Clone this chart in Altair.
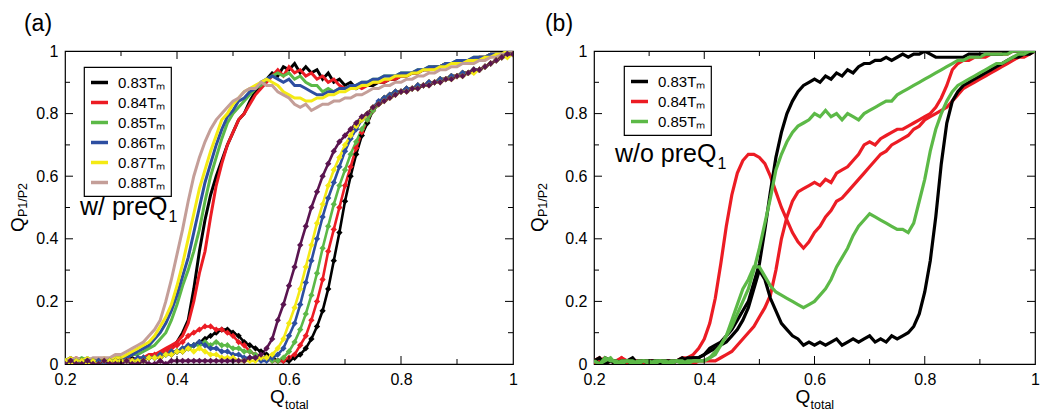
import altair as alt
import pandas as pd

FONT = "Liberation Sans"

# ---------------- data ----------------
X = [0.20, 0.21, 0.22, 0.23, 0.24, 0.25, 0.26, 0.27, 0.28, 0.29,
     0.30, 0.31, 0.32, 0.33, 0.34, 0.35, 0.36, 0.37, 0.38, 0.39,
     0.40, 0.41, 0.42, 0.43, 0.44, 0.45, 0.46, 0.47, 0.48, 0.49,
     0.50, 0.51, 0.52, 0.53, 0.54, 0.55, 0.56, 0.57, 0.58, 0.59,
     0.60, 0.61, 0.62, 0.63, 0.64, 0.65, 0.66, 0.67, 0.68, 0.69,
     0.70, 0.71, 0.72, 0.73, 0.74, 0.75, 0.76, 0.77, 0.78, 0.79,
     0.80, 0.81, 0.82, 0.83, 0.84, 0.85, 0.86, 0.87, 0.88, 0.89,
     0.90, 0.91, 0.92, 0.93, 0.94, 0.95, 0.96, 0.97, 0.98, 0.99,
     1.00]

# panel (a) upper branches (w/ preQ1)
A_U083 = [0.01, 0.02, 0.01, 0.00, 0.01, 0.01, 0.00, 0.01, 0.01, 0.01,
          0.01, 0.01, 0.02, 0.01, 0.02, 0.02, 0.03, 0.03, 0.04, 0.05,
          0.07, 0.10, 0.14, 0.24, 0.36, 0.46, 0.54, 0.60, 0.65, 0.70,
          0.74, 0.78, 0.80, 0.84, 0.87, 0.89, 0.91, 0.93, 0.92, 0.95,
          0.94, 0.96, 0.93, 0.95, 0.93, 0.94, 0.91, 0.93, 0.90, 0.91,
          0.89, 0.90, 0.88, 0.89, 0.89, 0.89, 0.90, 0.90, 0.91, 0.91,
          0.92, 0.92, 0.93, 0.93, 0.94, 0.94, 0.95, 0.95, 0.96, 0.96,
          0.96, 0.97, 0.97, 0.97, 0.98, 0.98, 0.99, 0.99, 0.99, 1.00,
          1.00]
A_U084 = [0.00, 0.01, 0.02, 0.01, 0.00, 0.01, 0.01, 0.00, 0.01, 0.01,
          0.01, 0.02, 0.01, 0.02, 0.02, 0.03, 0.03, 0.04, 0.05, 0.06,
          0.07, 0.09, 0.13, 0.20, 0.29, 0.36, 0.47, 0.57, 0.64, 0.70,
          0.74, 0.78, 0.80, 0.83, 0.86, 0.88, 0.90, 0.92, 0.94, 0.92,
          0.95, 0.93, 0.94, 0.92, 0.93, 0.91, 0.92, 0.90, 0.91, 0.89,
          0.88, 0.89, 0.89, 0.88, 0.89, 0.90, 0.90, 0.90, 0.91, 0.91,
          0.92, 0.92, 0.93, 0.93, 0.94, 0.94, 0.95, 0.95, 0.96, 0.96,
          0.96, 0.97, 0.97, 0.97, 0.98, 0.98, 0.99, 0.99, 0.99, 1.00,
          1.00]
A_U085 = [0.01, 0.00, 0.01, 0.02, 0.01, 0.01, 0.00, 0.01, 0.01, 0.02,
          0.02, 0.02, 0.03, 0.03, 0.04, 0.05, 0.06, 0.08, 0.10, 0.14,
          0.19, 0.25, 0.30, 0.36, 0.43, 0.52, 0.60, 0.66, 0.72, 0.77,
          0.80, 0.82, 0.84, 0.86, 0.88, 0.89, 0.91, 0.92, 0.93, 0.92,
          0.93, 0.91, 0.92, 0.90, 0.89, 0.89, 0.87, 0.88, 0.87, 0.88,
          0.88, 0.89, 0.89, 0.90, 0.90, 0.91, 0.91, 0.92, 0.92, 0.92,
          0.93, 0.93, 0.93, 0.94, 0.94, 0.95, 0.95, 0.95, 0.96, 0.96,
          0.97, 0.97, 0.97, 0.98, 0.98, 0.98, 0.99, 0.99, 0.99, 1.00,
          1.00]
A_U086 = [0.01, 0.01, 0.00, 0.01, 0.02, 0.01, 0.01, 0.00, 0.01, 0.02,
          0.02, 0.02, 0.03, 0.04, 0.05, 0.06, 0.08, 0.10, 0.13, 0.17,
          0.22, 0.28, 0.34, 0.42, 0.50, 0.58, 0.64, 0.70, 0.75, 0.79,
          0.81, 0.84, 0.85, 0.87, 0.88, 0.90, 0.91, 0.92, 0.91, 0.90,
          0.91, 0.89, 0.89, 0.88, 0.87, 0.86, 0.86, 0.87, 0.87, 0.88,
          0.88, 0.89, 0.89, 0.90, 0.90, 0.91, 0.91, 0.92, 0.92, 0.92,
          0.93, 0.93, 0.93, 0.94, 0.94, 0.95, 0.95, 0.95, 0.96, 0.96,
          0.97, 0.97, 0.97, 0.98, 0.98, 0.98, 0.99, 0.99, 0.99, 1.00,
          1.00]
A_U087 = [0.01, 0.02, 0.01, 0.01, 0.02, 0.01, 0.01, 0.02, 0.01, 0.02,
          0.02, 0.03, 0.04, 0.05, 0.06, 0.07, 0.09, 0.12, 0.15, 0.19,
          0.25, 0.32, 0.40, 0.48, 0.56, 0.62, 0.68, 0.73, 0.78, 0.80,
          0.83, 0.85, 0.87, 0.88, 0.89, 0.90, 0.91, 0.90, 0.89, 0.87,
          0.86, 0.85, 0.85, 0.84, 0.84, 0.85, 0.85, 0.86, 0.86, 0.87,
          0.87, 0.88, 0.88, 0.89, 0.89, 0.90, 0.90, 0.91, 0.91, 0.92,
          0.92, 0.92, 0.93, 0.93, 0.94, 0.94, 0.94, 0.95, 0.95, 0.96,
          0.96, 0.96, 0.97, 0.97, 0.97, 0.98, 0.98, 0.99, 0.99, 1.00,
          1.00]
A_U088 = [0.01, 0.01, 0.02, 0.01, 0.01, 0.02, 0.02, 0.02, 0.02, 0.03,
          0.03, 0.04, 0.05, 0.06, 0.07, 0.09, 0.11, 0.14, 0.20, 0.27,
          0.35, 0.43, 0.52, 0.60, 0.66, 0.71, 0.75, 0.78, 0.80, 0.82,
          0.84, 0.85, 0.87, 0.88, 0.88, 0.90, 0.89, 0.89, 0.87, 0.86,
          0.85, 0.83, 0.82, 0.83, 0.81, 0.82, 0.83, 0.83, 0.84, 0.84,
          0.85, 0.85, 0.86, 0.86, 0.87, 0.88, 0.88, 0.89, 0.89, 0.90,
          0.90, 0.91, 0.91, 0.92, 0.92, 0.93, 0.93, 0.94, 0.94, 0.95,
          0.95, 0.96, 0.96, 0.96, 0.97, 0.97, 0.98, 0.98, 0.99, 0.99,
          1.00]

# panel (a) lower branches
A_L083 = [0.01, 0.00, 0.00, 0.01, 0.00, 0.01, 0.00, 0.00, 0.01, 0.00,
          0.01, 0.01, 0.01, 0.01, 0.01, 0.02, 0.02, 0.02, 0.03, 0.03,
          0.04, 0.04, 0.05, 0.06, 0.07, 0.08, 0.09, 0.10, 0.11, 0.11,
          0.10, 0.09, 0.07, 0.06, 0.05, 0.04, 0.03, 0.02, 0.01, 0.01,
          0.01, 0.02, 0.03, 0.05, 0.08, 0.12, 0.17, 0.24, 0.33, 0.42,
          0.52, 0.60, 0.67, 0.73, 0.77, 0.81, 0.83, 0.85, 0.86, 0.87,
          0.87, 0.88, 0.88, 0.89, 0.89, 0.90, 0.90, 0.91, 0.91, 0.92,
          0.92, 0.93, 0.93, 0.94, 0.94, 0.95, 0.96, 0.97, 0.98, 0.99,
          0.99]
A_L084 = [0.00, 0.01, 0.00, 0.01, 0.01, 0.00, 0.01, 0.01, 0.00, 0.01,
          0.01, 0.01, 0.01, 0.01, 0.02, 0.02, 0.03, 0.03, 0.04, 0.05,
          0.06, 0.07, 0.09, 0.10, 0.11, 0.12, 0.12, 0.11, 0.11, 0.10,
          0.09, 0.07, 0.06, 0.04, 0.03, 0.02, 0.02, 0.01, 0.01, 0.01,
          0.02, 0.03, 0.06, 0.09, 0.14, 0.20, 0.27, 0.36, 0.43, 0.50,
          0.57, 0.63, 0.69, 0.74, 0.78, 0.81, 0.83, 0.85, 0.86, 0.87,
          0.87, 0.88, 0.88, 0.89, 0.89, 0.90, 0.90, 0.91, 0.91, 0.92,
          0.92, 0.93, 0.93, 0.94, 0.94, 0.95, 0.96, 0.97, 0.98, 0.99,
          0.99]
A_L085 = [0.01, 0.00, 0.01, 0.01, 0.01, 0.00, 0.01, 0.01, 0.01, 0.01,
          0.01, 0.01, 0.01, 0.01, 0.02, 0.02, 0.02, 0.03, 0.03, 0.04,
          0.04, 0.05, 0.05, 0.06, 0.06, 0.07, 0.06, 0.07, 0.06, 0.06,
          0.05, 0.05, 0.04, 0.04, 0.03, 0.02, 0.02, 0.01, 0.01, 0.02,
          0.04, 0.07, 0.11, 0.16, 0.22, 0.29, 0.37, 0.44, 0.51, 0.57,
          0.62, 0.67, 0.71, 0.75, 0.78, 0.81, 0.83, 0.85, 0.86, 0.87,
          0.87, 0.88, 0.88, 0.89, 0.89, 0.90, 0.90, 0.91, 0.91, 0.92,
          0.92, 0.93, 0.93, 0.94, 0.94, 0.95, 0.96, 0.97, 0.98, 0.99,
          0.99]
A_L086 = [0.00, 0.01, 0.01, 0.00, 0.01, 0.01, 0.01, 0.00, 0.01, 0.01,
          0.01, 0.01, 0.01, 0.02, 0.02, 0.02, 0.02, 0.03, 0.03, 0.04,
          0.04, 0.05, 0.06, 0.06, 0.07, 0.06, 0.05, 0.05, 0.04, 0.04,
          0.03, 0.03, 0.02, 0.02, 0.02, 0.01, 0.01, 0.02, 0.03, 0.05,
          0.09, 0.13, 0.19, 0.26, 0.33, 0.40, 0.47, 0.53, 0.58, 0.63,
          0.68, 0.72, 0.75, 0.78, 0.80, 0.82, 0.84, 0.85, 0.86, 0.87,
          0.87, 0.88, 0.88, 0.89, 0.89, 0.90, 0.90, 0.91, 0.91, 0.92,
          0.92, 0.93, 0.93, 0.94, 0.94, 0.95, 0.96, 0.97, 0.98, 0.99,
          0.99]
A_L087 = [0.01, 0.00, 0.01, 0.01, 0.00, 0.01, 0.00, 0.01, 0.01, 0.01,
          0.01, 0.01, 0.01, 0.01, 0.01, 0.02, 0.02, 0.02, 0.03, 0.03,
          0.04, 0.04, 0.05, 0.04, 0.05, 0.04, 0.03, 0.03, 0.02, 0.02,
          0.02, 0.01, 0.01, 0.01, 0.01, 0.02, 0.02, 0.03, 0.05, 0.08,
          0.13, 0.18, 0.24, 0.31, 0.38, 0.45, 0.51, 0.57, 0.62, 0.66,
          0.70, 0.73, 0.76, 0.78, 0.80, 0.82, 0.83, 0.84, 0.85, 0.86,
          0.87, 0.87, 0.88, 0.88, 0.89, 0.89, 0.90, 0.90, 0.91, 0.91,
          0.92, 0.92, 0.93, 0.93, 0.94, 0.95, 0.96, 0.97, 0.98, 0.98,
          0.99]
A_LPUR = [0.00, 0.01, 0.00, 0.00, 0.01, 0.00, 0.00, 0.01, 0.00, 0.00,
          0.00, 0.01, 0.00, 0.00, 0.01, 0.00, 0.00, 0.01, 0.00, 0.01,
          0.01, 0.01, 0.01, 0.01, 0.01, 0.01, 0.01, 0.01, 0.01, 0.01,
          0.01, 0.01, 0.01, 0.02, 0.02, 0.03, 0.05, 0.08, 0.14, 0.19,
          0.25, 0.31, 0.38, 0.44, 0.50, 0.55, 0.60, 0.64, 0.68, 0.71,
          0.73, 0.75, 0.77, 0.79, 0.80, 0.82, 0.83, 0.84, 0.85, 0.86,
          0.87, 0.87, 0.88, 0.88, 0.89, 0.89, 0.90, 0.90, 0.91, 0.91,
          0.92, 0.92, 0.93, 0.94, 0.94, 0.95, 0.96, 0.97, 0.98, 0.99,
          0.99]

# panel (b) curves (w/o preQ1)
B_K1 = [0.01, 0.02, 0.00, 0.01, 0.01, 0.00, 0.01, 0.02, 0.00, 0.01,
        0.01, 0.01, 0.00, 0.01, 0.01, 0.01, 0.02, 0.01, 0.02, 0.02,
        0.03, 0.05, 0.06, 0.07, 0.09, 0.11, 0.14, 0.17, 0.20, 0.26,
        0.32, 0.43, 0.55, 0.66, 0.74, 0.80, 0.84, 0.87, 0.89, 0.90,
        0.91, 0.90, 0.92, 0.91, 0.93, 0.92, 0.94, 0.93, 0.95, 0.96,
        0.96, 0.97, 0.97, 0.98, 0.97, 0.98, 0.99, 0.98, 0.99, 0.99,
        1.00, 0.99, 0.98, 0.98, 0.98, 0.98, 0.98, 0.98, 0.99, 0.99,
        0.99, 0.99, 0.99, 0.99, 0.99, 1.00, 1.00, 1.00, 1.00, 1.00,
        1.00]
B_K2 = [0.01, 0.00, 0.02, 0.01, 0.00, 0.01, 0.01, 0.00, 0.01, 0.01,
        0.00, 0.01, 0.01, 0.01, 0.00, 0.01, 0.01, 0.02, 0.02, 0.02,
        0.03, 0.04, 0.05, 0.06, 0.07, 0.09, 0.11, 0.14, 0.18, 0.24,
        0.30, 0.27, 0.21, 0.17, 0.13, 0.11, 0.09, 0.08, 0.06, 0.07,
        0.06, 0.07, 0.06, 0.07, 0.08, 0.06, 0.07, 0.08, 0.07, 0.08,
        0.09, 0.07, 0.08, 0.07, 0.09, 0.08, 0.09, 0.10, 0.12, 0.16,
        0.23, 0.33, 0.47, 0.64, 0.77, 0.84, 0.87, 0.89, 0.90, 0.91,
        0.92, 0.93, 0.94, 0.95, 0.96, 0.97, 0.98, 0.98, 0.99, 0.99,
        1.00]
B_R1 = [0.01, 0.02, 0.00, 0.01, 0.01, 0.02, 0.00, 0.01, 0.01, 0.00,
        0.01, 0.01, 0.00, 0.01, 0.01, 0.01, 0.02, 0.02, 0.03, 0.05,
        0.08, 0.13, 0.21, 0.32, 0.44, 0.54, 0.61, 0.65, 0.67, 0.67,
        0.66, 0.64, 0.60, 0.55, 0.50, 0.46, 0.42, 0.39, 0.37, 0.39,
        0.42, 0.44, 0.47, 0.49, 0.52, 0.53, 0.55, 0.57, 0.59, 0.61,
        0.63, 0.65, 0.67, 0.68, 0.70, 0.71, 0.72, 0.73, 0.75, 0.76,
        0.78, 0.79, 0.80, 0.81, 0.82, 0.84, 0.86, 0.88, 0.89, 0.90,
        0.91, 0.92, 0.93, 0.94, 0.95, 0.96, 0.97, 0.98, 0.98, 0.99,
        1.00]
B_R2 = [0.00, 0.01, 0.02, 0.01, 0.00, 0.02, 0.01, 0.00, 0.01, 0.01,
        0.01, 0.00, 0.01, 0.01, 0.00, 0.01, 0.01, 0.01, 0.00, 0.01,
        0.01, 0.01, 0.01, 0.02, 0.03, 0.04, 0.06, 0.08, 0.10, 0.12,
        0.15, 0.18, 0.22, 0.30, 0.40, 0.47, 0.52, 0.55, 0.56, 0.57,
        0.58, 0.57, 0.59, 0.58, 0.61, 0.62, 0.63, 0.65, 0.67, 0.70,
        0.71, 0.70, 0.72, 0.73, 0.74, 0.75, 0.75, 0.76, 0.77, 0.78,
        0.79, 0.80, 0.82, 0.85, 0.89, 0.94, 0.96, 0.97, 0.97, 0.98,
        0.98, 0.98, 0.99, 0.99, 0.99, 0.99, 1.00, 1.00, 1.00, 1.00,
        1.00]
B_G1 = [0.01, 0.00, 0.02, 0.01, 0.01, 0.00, 0.01, 0.01, 0.00, 0.01,
        0.01, 0.00, 0.01, 0.01, 0.00, 0.01, 0.01, 0.00, 0.01, 0.01,
        0.01, 0.02, 0.04, 0.06, 0.09, 0.12, 0.16, 0.20, 0.24, 0.30,
        0.37, 0.45, 0.53, 0.62, 0.67, 0.71, 0.74, 0.76, 0.77, 0.78,
        0.80, 0.79, 0.81, 0.79, 0.80, 0.78, 0.80, 0.79, 0.78, 0.80,
        0.81, 0.82, 0.83, 0.84, 0.84, 0.86, 0.87, 0.88, 0.89, 0.90,
        0.91, 0.92, 0.93, 0.94, 0.95, 0.96, 0.97, 0.97, 0.98, 0.98,
        0.98, 0.99, 0.99, 0.99, 0.99, 0.99, 1.00, 1.00, 1.00, 1.00,
        1.00]
B_G2 = [0.01, 0.00, 0.01, 0.02, 0.00, 0.01, 0.01, 0.00, 0.01, 0.01,
        0.00, 0.01, 0.01, 0.00, 0.01, 0.01, 0.00, 0.01, 0.01, 0.01,
        0.01, 0.02, 0.03, 0.06, 0.09, 0.14, 0.19, 0.24, 0.27, 0.31,
        0.31, 0.28, 0.25, 0.23, 0.22, 0.21, 0.20, 0.19, 0.18, 0.19,
        0.20, 0.22, 0.24, 0.27, 0.31, 0.34, 0.37, 0.41, 0.44, 0.46,
        0.48, 0.47, 0.46, 0.45, 0.44, 0.43, 0.43, 0.42, 0.45, 0.52,
        0.59, 0.68, 0.75, 0.80, 0.84, 0.87, 0.89, 0.90, 0.91, 0.92,
        0.93, 0.94, 0.95, 0.96, 0.96, 0.97, 0.98, 0.99, 0.99, 1.00,
        1.00]

SUB_M = "\u2098"
LABELS_A = ["0.83T" + SUB_M, "0.84T" + SUB_M, "0.85T" + SUB_M,
            "0.86T" + SUB_M, "0.87T" + SUB_M, "0.88T" + SUB_M, "extra"]
COLORS_A = ["#000000", "#ec1c24", "#5cb947", "#2d4ea1", "#f4ea14", "#c49e98", "#5a1450"]
LABELS_B = LABELS_A[:3]
COLORS_B = COLORS_A[:3]

XLAB = [0.2, 0.4, 0.6, 0.8, 1.0]
YLAB = [0.0, 0.2, 0.4, 0.6, 0.8, 1.0]
XMAJ = [0.4, 0.6, 0.8]
XMIN = [0.3, 0.5, 0.7, 0.9]
YMAJ = [0.2, 0.4, 0.6, 0.8]
YMIN = [0.1, 0.3, 0.5, 0.7, 0.9]

UPPER_A = [(LABELS_A[0], "u83", A_U083), (LABELS_A[1], "u84", A_U084),
           (LABELS_A[2], "u85", A_U085), (LABELS_A[3], "u86", A_U086),
           (LABELS_A[4], "u87", A_U087), (LABELS_A[5], "u88", A_U088)]
LOWER_A = [(LABELS_A[0], "l83", A_L083), (LABELS_A[1], "l84", A_L084),
           (LABELS_A[2], "l85", A_L085), (LABELS_A[3], "l86", A_L086),
           (LABELS_A[4], "l87", A_L087), (LABELS_A[6], "lpu", A_LPUR)]
CURVES_B = [(LABELS_B[1], "r1", B_R1), (LABELS_B[1], "r2", B_R2),
            (LABELS_B[0], "k1", B_K1), (LABELS_B[0], "k2", B_K2),
            (LABELS_B[2], "g1", B_G1), (LABELS_B[2], "g2", B_G2)]


def to_long(curves):
    rows = []
    for order, (lab, cid, ys) in enumerate(curves):
        if len(ys) != len(X):
            raise ValueError(f"{cid} has {len(ys)} values")
        for xv, yv in zip(X, ys):
            rows.append({"x": xv, "y": yv, "T": lab, "cid": f"{order:02d}{cid}"})
    return pd.DataFrame(rows)


XS = alt.Scale(domain=[0.2, 1.0], nice=False, zero=False)
YS = alt.Scale(domain=[0.0, 1.0], nice=False, zero=False)
AX = alt.Axis(values=XLAB, format=".1~f", title=None, ticks=False, domain=False,
              grid=False, labelFontSize=16, labelFont=FONT, labelColor="black",
              labelPadding=7, labelFlush=False)
AY = alt.Axis(values=YLAB, format=".1~f", title=None, ticks=False, domain=False,
              grid=False, labelFontSize=16, labelFont=FONT, labelColor="black",
              labelPadding=7, labelFlush=False)


def tick_layers(W, H):
    out = []
    for vals, L in [(XMAJ, 8), (XMIN, 5)]:
        d = pd.DataFrame({"x": vals})
        out.append(alt.Chart(d).mark_rule(color="black", strokeWidth=1).encode(
            x=alt.X("x:Q", scale=XS, axis=AX), y=alt.value(H), y2=alt.value(H - L)))
        out.append(alt.Chart(d).mark_rule(color="black", strokeWidth=1).encode(
            x=alt.X("x:Q", scale=XS, axis=AX), y=alt.value(0), y2=alt.value(L)))
    for vals, L in [(YMAJ, 8), (YMIN, 5)]:
        d = pd.DataFrame({"y": vals})
        out.append(alt.Chart(d).mark_rule(color="black", strokeWidth=1).encode(
            y=alt.Y("y:Q", scale=YS, axis=AY), x=alt.value(0), x2=alt.value(L)))
        out.append(alt.Chart(d).mark_rule(color="black", strokeWidth=1).encode(
            y=alt.Y("y:Q", scale=YS, axis=AY), x=alt.value(W), x2=alt.value(W - L)))
    return out


def text(s, x, y, size, **kw):
    return alt.Chart(pd.DataFrame({"s": [s]})).mark_text(
        font=FONT, fontSize=size, color="black", **kw).encode(
        text="s:N", x=alt.value(x), y=alt.value(y))


def titles(W, H, letter, letter_x, note, note_x, note_y, ytitle_x):
    note_w = {"w/ preQ": 3.501, "w/o preQ": 4.057}[note] * 25
    qx = W / 2 - 19
    return [
        text(letter, letter_x, -20, 23, align="center", baseline="alphabetic"),
        text(note, note_x, note_y, 25, align="left", baseline="alphabetic"),
        text("1", note_x + note_w + 1, note_y + 7, 16, align="left", baseline="alphabetic"),
        text("Q", qx, 352, 19, align="left", baseline="alphabetic"),
        text("total", qx + 15, 358, 12.5, align="left", baseline="alphabetic"),
        text("Q", ytitle_x, 181, 19, align="left", baseline="middle", angle=270),
        text("P1/P2", ytitle_x + 5, 166, 12.5, align="left", baseline="middle", angle=270),
    ]


def legend(labels, lx, ly):
    return alt.Legend(orient="none", legendX=lx, legendY=ly, title=None,
                      values=labels, strokeColor="black", padding=5,
                      symbolType="stroke", symbolSize=289, symbolStrokeWidth=3.5,
                      labelFont=FONT, labelFontSize=15, labelColor="black",
                      labelOffset=8, rowPadding=1)


# ---------------- panel (a) ----------------
WA, HA = 448, 313
df_au = to_long(UPPER_A)
df_al = to_long(LOWER_A)
col_a = alt.Color("T:N", scale=alt.Scale(domain=LABELS_A, range=COLORS_A),
                  legend=legend(LABELS_A[:6], 19, 16))
up_a = alt.Chart(df_au).mark_line(strokeWidth=3, clip=True).encode(
    x=alt.X("x:Q", scale=XS, axis=AX), y=alt.Y("y:Q", scale=YS, axis=AY),
    color=col_a, detail="cid:N")
lowline_a = alt.Chart(df_al).mark_line(strokeWidth=2.6, clip=True).encode(
    x=alt.X("x:Q", scale=XS, axis=AX), y=alt.Y("y:Q", scale=YS, axis=AY),
    color=col_a, detail="cid:N")
lowpts_a = alt.Chart(df_al).mark_point(shape="diamond", filled=True, size=40,
                                       opacity=1, clip=True).encode(
    x=alt.X("x:Q", scale=XS, axis=AX), y=alt.Y("y:Q", scale=YS, axis=AY),
    color=col_a)
panel_a = alt.layer(
    up_a, lowline_a, lowpts_a, *tick_layers(WA, HA),
    *titles(WA, HA, "(a)", -27, "w/ preQ", 15, 164, -47)
).properties(width=WA, height=HA)

# ---------------- panel (b) ----------------
WB, HB = 441, 313
df_b = to_long(CURVES_B)
col_b = alt.Color("T:N", scale=alt.Scale(domain=LABELS_B, range=COLORS_B),
                  legend=legend(LABELS_B, 30, 15))
lines_b = alt.Chart(df_b).mark_line(strokeWidth=3.2, clip=True).encode(
    x=alt.X("x:Q", scale=XS, axis=AX), y=alt.Y("y:Q", scale=YS, axis=AY),
    color=col_b, detail="cid:N")
panel_b = alt.layer(
    lines_b, *tick_layers(WB, HB),
    *titles(WB, HB, "(b)", -35, "w/o preQ", 21, 111, -56)
).properties(width=WB, height=HB)

chart = alt.hconcat(panel_a, panel_b, spacing=81, bounds="flush").resolve_scale(
    color="independent", x="independent", y="independent"
).resolve_legend(color="independent").properties(
    padding={"left": 0, "top": 4, "right": 0, "bottom": 0}
).configure_view(stroke="black", strokeWidth=1.2).configure_legend(strokeWidth=1.2)

chart.save("out.html", embed_options={"renderer": "svg", "actions": False})
